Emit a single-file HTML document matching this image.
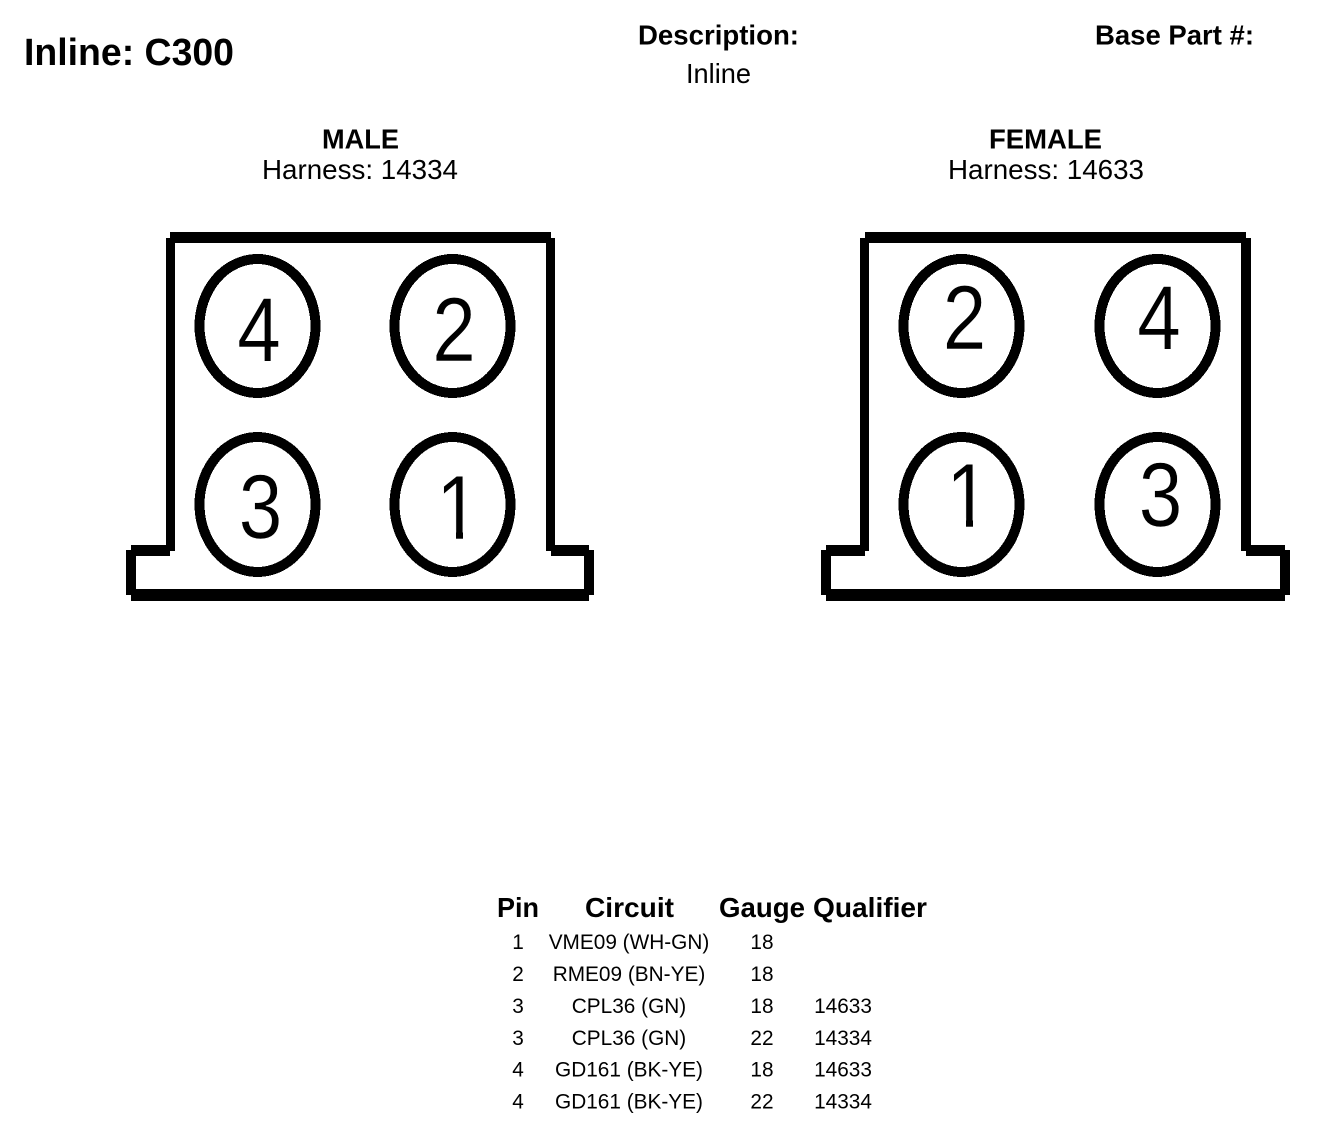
<!DOCTYPE html>
<html><head><meta charset="utf-8"><style>
html,body{margin:0;padding:0;background:#fff}
svg{display:block}
text{font-family:"Liberation Sans",Arial,sans-serif;fill:#000}
.b{font-weight:bold}
.h{font-weight:bold;font-size:27.5px}
.r{font-size:20.8px;text-anchor:middle}
.d{font-size:91px;text-anchor:middle;stroke:#fff;stroke-width:.5px}
ellipse{fill:none;stroke:#000;stroke-width:10;shape-rendering:crispEdges}
</style></head><body>
<svg width="1328" height="1142" viewBox="0 0 1328 1142" xmlns="http://www.w3.org/2000/svg">
<rect width="1328" height="1142" fill="#fff"/>
<text class="b" x="24" y="65" font-size="38" textLength="210" lengthAdjust="spacingAndGlyphs">Inline: C300</text>
<text class="h" x="638" y="44.5" textLength="161" lengthAdjust="spacingAndGlyphs">Description:</text>
<text x="686" y="83" font-size="27.5" textLength="65" lengthAdjust="spacingAndGlyphs">Inline</text>
<text class="h" x="1095" y="44.5" textLength="159" lengthAdjust="spacingAndGlyphs">Base Part #:</text>
<text class="h" x="322" y="148.5" textLength="77" lengthAdjust="spacingAndGlyphs">MALE</text>
<text x="262" y="179" font-size="27.5" textLength="196" lengthAdjust="spacingAndGlyphs">Harness: 14334</text>
<text class="h" x="989" y="148.5" textLength="113" lengthAdjust="spacingAndGlyphs">FEMALE</text>
<text x="948" y="179" font-size="27.5" textLength="196" lengthAdjust="spacingAndGlyphs">Harness: 14633</text>

<g fill="#000" shape-rendering="crispEdges">
<rect x="170" y="232" width="381" height="11"/>
<rect x="166" y="238" width="9" height="313"/>
<rect x="546" y="238" width="9" height="313"/>
<rect x="131" y="545" width="39" height="11"/>
<rect x="551" y="545" width="38" height="11"/>
<rect x="126" y="550" width="10" height="45"/>
<rect x="584" y="550" width="10" height="45"/>
<rect x="131" y="589" width="458" height="12"/>

<rect x="865" y="232" width="381" height="11"/>
<rect x="860" y="238" width="9" height="313"/>
<rect x="1241" y="238" width="10" height="313"/>
<rect x="826" y="545" width="39" height="11"/>
<rect x="1246" y="545" width="39" height="11"/>
<rect x="821" y="550" width="10" height="45"/>
<rect x="1280" y="550" width="10" height="45"/>
<rect x="826" y="589" width="459" height="12"/>
</g>

<ellipse cx="257.5" cy="326" rx="58" ry="67"/>
<ellipse cx="452.5" cy="326" rx="58" ry="67"/>
<ellipse cx="257.5" cy="504.5" rx="58" ry="67.5"/>
<ellipse cx="452.5" cy="504.5" rx="58" ry="67.5"/>
<ellipse cx="961.5" cy="326" rx="58" ry="67"/>
<ellipse cx="1157.5" cy="326" rx="58" ry="67"/>
<ellipse cx="961.5" cy="504.5" rx="58" ry="67.5"/>
<ellipse cx="1157.5" cy="504.5" rx="58" ry="67.5"/>

<text class="d" transform="translate(259,361) scale(.86,1)">4</text>
<text class="d" transform="translate(454,361) scale(.86,1)">2</text>
<text class="d" transform="translate(260.5,538) scale(.86,1)">3</text>
<text class="d" transform="translate(458,539) scale(.86,1)">1</text>
<text class="d" transform="translate(964.5,349) scale(.86,1)">2</text>
<text class="d" transform="translate(1159,349) scale(.86,1)">4</text>
<text class="d" transform="translate(968,527) scale(.86,1)">1</text>
<text class="d" transform="translate(1160.5,526) scale(.86,1)">3</text>
<g fill="#fff" shape-rendering="crispEdges">
<rect x="436" y="530" width="20" height="12"/>
<rect x="463" y="530" width="20" height="12"/>
<rect x="946" y="518" width="20" height="12"/>
<rect x="973" y="518" width="20" height="12"/>
</g>

<text class="h" x="497" y="917" textLength="42" lengthAdjust="spacingAndGlyphs">Pin</text>
<text class="h" x="585" y="917" textLength="89" lengthAdjust="spacingAndGlyphs">Circuit</text>
<text class="h" x="719" y="917" textLength="86" lengthAdjust="spacingAndGlyphs">Gauge</text>
<text class="h" x="813" y="917" textLength="114" lengthAdjust="spacingAndGlyphs">Qualifier</text>

<text class="r" x="518" y="949">1</text><text class="r" x="629" y="949">VME09 (WH-GN)</text><text class="r" x="762" y="949">18</text>
<text class="r" x="518" y="981">2</text><text class="r" x="629" y="981">RME09 (BN-YE)</text><text class="r" x="762" y="981">18</text>
<text class="r" x="518" y="1013">3</text><text class="r" x="629" y="1013">CPL36 (GN)</text><text class="r" x="762" y="1013">18</text><text class="r" x="843" y="1013">14633</text>
<text class="r" x="518" y="1045">3</text><text class="r" x="629" y="1045">CPL36 (GN)</text><text class="r" x="762" y="1045">22</text><text class="r" x="843" y="1045">14334</text>
<text class="r" x="518" y="1076.5">4</text><text class="r" x="629" y="1076.5">GD161 (BK-YE)</text><text class="r" x="762" y="1076.5">18</text><text class="r" x="843" y="1076.5">14633</text>
<text class="r" x="518" y="1108.5">4</text><text class="r" x="629" y="1108.5">GD161 (BK-YE)</text><text class="r" x="762" y="1108.5">22</text><text class="r" x="843" y="1108.5">14334</text>
</svg>
</body></html>
